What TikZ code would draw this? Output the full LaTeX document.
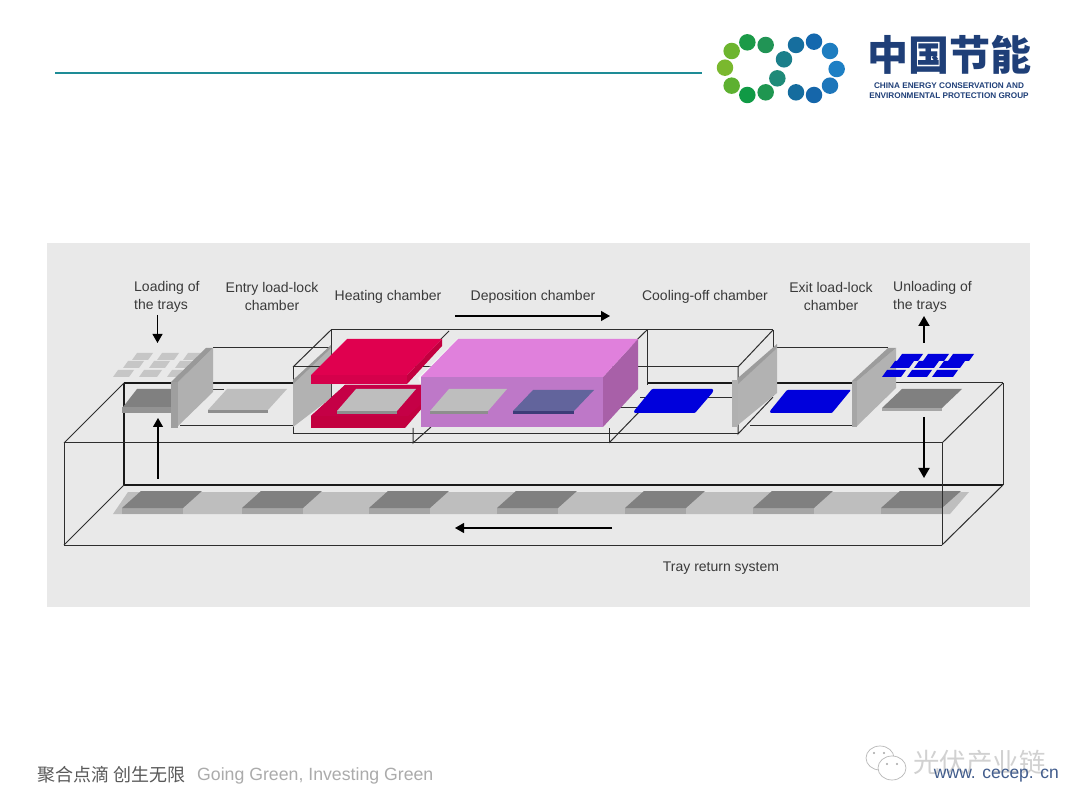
\documentclass[tikz,border=0pt]{standalone}
\usepackage{fontspec}
\setmainfont{Liberation Sans}
\newfontfamily\cjk{Noto Sans CJK SC}
\usetikzlibrary{arrows.meta}
\definecolor{panel}{HTML}{E9E9E9}
\definecolor{frameln}{HTML}{2E2E2E}
\definecolor{labelc}{HTML}{3A3A3A}
\definecolor{navy}{HTML}{1F3F78}
\definecolor{teal1}{HTML}{1E8C96}
\definecolor{bluet}{HTML}{0000DC}
\definecolor{redtop}{HTML}{E0004F}
\definecolor{redside}{HTML}{C2003F}
\definecolor{trayg}{HTML}{808080}
\definecolor{traye}{HTML}{A6A6A6}
\definecolor{traylt}{HTML}{BEBEBE}
\definecolor{traylte}{HTML}{8E8E8E}
\tikzset{
 fr/.style={draw=frameln,line width=1pt},
 frb/.style={draw=black!90,line width=1.5pt},
 lbl/.style={font=\fontsize{14}{18}\selectfont,text=labelc,inner sep=0pt,align=center},
 lbll/.style={lbl,align=left,anchor=west},
 arr/.style={draw=black,line width=1.1pt,-{Triangle[length=9pt,width=10pt]}},
 arrb/.style={draw=black,line width=1.9pt,-{Triangle[length=10pt,width=11pt]}},
 dot/.style={circle,inner sep=0pt,minimum size=#1},
}
% \trayp{x-left}{y}{dx-back-shift}{width}{depth}{top}{edge}
\newcommand{\trayp}[7]{%
 \fill[#7] (#1,#2) -- ++(#4,0) -- ++(0,3) -- ++(-#4,0) -- cycle;
 \fill[#6] (#1,#2) -- ++(#4,0) -- ++(#3,-#5) -- ++(-#4,0) -- cycle;}
\newcommand{\tile}[4]{\fill[#4] (#1,#2) -- ++(#3+2,0) -- ++(5,-7) -- ++(-#3-2,0) -- cycle;}
\begin{document}
\begin{tikzpicture}[x=1pt,y=-1pt]
\useasboundingbox (0,0) rectangle (1080,810);
\fill[white] (0,0) rectangle (1080,810);
\fill[panel] (47,243) rectangle (1030,607);
% header
\draw[teal1,line width=2.4pt] (55,73) -- (702,73);
% logo
\foreach \x/\y/\c in {95/93/6DB52F,75/143/7AB82E,95/197/5DB030,142/225/109A45,197/217/1F9650,142/67/1B9A47,197/75/219455,232/175/1E8A78,252/118/1B7F8A,288/75/166E9E,342/65/1468AE,390/93/1E7DC0,410/147/1D7FC4,390/197/1D76BA,342/225/1566AA,288/217/156C9E}{
 \definecolor{tmpc}{HTML}{\c}
 \node[dot=16.5pt,fill=tmpc] at ({700+\x/3},{20+\y/3}) {};}
\node[inner sep=0pt,text=navy,anchor=center] (logoname) at (949,55) {\fontsize{41}{41}\selectfont\cjk\bfseries 中国节能};
\node[inner sep=0pt,text=navy,anchor=center] (logo1) at (949,86) {\fontsize{8.2}{9}\selectfont\bfseries CHINA ENERGY CONSERVATION AND};
\node[inner sep=0pt,text=navy,anchor=center] (logo2) at (949,95.5) {\fontsize{8.2}{9}\selectfont\bfseries ENVIRONMENTAL PROTECTION GROUP};
% back and lower lines of the tray return box
\draw[frb] (124,383) -- (124,485) -- (1003,485);
\draw[frb] (124,383) -- (171,383);
\draw[frb] (213,383) -- (293,383);
\draw[fr] (1003,383) -- (1003,485);
\draw[frb] (647,383) -- (853,383);
\draw[fr] (853,383) -- (1003,383);
% conveyor
\fill[traylt] (113,514) -- (950,514) -- (969,492) -- (128,492) -- cycle;
\foreach \x in {122,242,369,497,625,753,881}{
 \fill[traye] (\x,508) rectangle ++(61,6);
 \trayp{\x}{508}{19}{61}{17}{trayg}{traye}}
% entry lock frame
\draw[fr] (213,348) -- (331,348);
\draw[fr] (180,426) -- (293,426);
\draw[fr] (213,390) -- (224,390);
% heating/deposition frame
\draw[fr] (331,330) -- (773,330);
\draw[fr] (293,367) -- (331,330);
\draw[fr] (293,367) -- (738,367);
\draw[fr] (293,367) -- (293,434) -- (738,434);
\draw[fr] (331,330) -- (331,400);
\draw[fr] (773,330) -- (773,396);
\draw[fr] (773,330) -- (738,367);
\draw[fr] (738,367) -- (738,434) -- (773,397);
\draw[fr] (449,331) -- (413,367);
\draw[fr] (647,330) -- (647,385) ;
\draw[fr] (647,330) -- (609,367);
\draw[fr] (640,398) -- (738,398);
\draw[fr] (620,408) -- (640,408);
\draw[fr] (609,428) -- (609,443);
\draw[fr] (413,428) -- (413,443) -- (431,427);
\draw[fr] (609,443) -- (640,411);
% exit lock frame
\draw[fr] (777,348) -- (888,348);
\draw[fr] (750,426) -- (853,426);
% front outlines of the return box
\draw[fr] (64,443) -- (942,443);
\draw[fr] (64,443) -- (124,383);
\draw[fr] (64,443) -- (64,545) -- (942,545);
\draw[fr] (64,545) -- (124,485);
\draw[fr] (942,443) -- (1003,383);
\draw[fr] (942,545) -- (1003,485);
% loading tray and tiles
\fill[trayg] (123,407) -- (171,407) -- (171,389) -- (137,389) -- cycle;
\fill[gray!85] (122,407) rectangle (171,413);
\foreach \x/\y/\w in {132/360/14,157/360/15,183/360/13,123/368/14,149/368/14,175/368/13,113/377/14,139/377/16,167/377/9}
 \tile{\x}{\y}{\w}{gray!45}
% door 1
\fill[gray!75] (171,382) rectangle (178,428);
\fill[gray!62] (178,382) -- (213,348) -- (213,392) -- (178,426) -- cycle;
\fill[gray!80] (171,382) -- (178,382) -- (213,348) -- (206,348) -- cycle;
% entry tray
\trayp{208}{410}{19}{60}{21}{traylt}{traylte}
% door 2
\fill[gray!60] (293,380) -- (331,348) -- (331,398) -- (293,427) -- cycle;
\fill[gray!80] (293,380) -- (331,345) -- (331,348) -- (293,384) -- cycle;
\draw[fr] (293,367) -- (331,367);
% heating chamber
\fill[redside] (311,428) -- (311,416) -- (345,385) -- (442,385) -- (405,428) -- cycle;
\fill[redtop!88!black] (311,416) -- (345,385) -- (442,385) -- (408,416) -- cycle;
\trayp{337}{411}{19}{60}{22}{traylt}{traylte}
\fill[redtop!95!black] (311,375) rectangle (407,384);
\fill[redside] (407,375) -- (442,339) -- (442,346) -- (407,384) -- cycle;
\fill[redtop] (347,339) -- (442,339) -- (407,375) -- (311,375) -- cycle;
% deposition chamber
\fill[white,opacity=.55] (418,378) -- (458,338) -- (458,345) -- (421,384) -- cycle;
\definecolor{pinktop}{HTML}{E080DC}
\definecolor{pinkfront}{HTML}{BE78C8}
\definecolor{pinkside}{HTML}{A860A8}
\fill[pinkfront] (421,377) rectangle (603,427);
\fill[pinkside] (603,377) -- (638,339) -- (638,389) -- (603,427) -- cycle;
\fill[pinktop] (421,377) -- (458,339) -- (638,339) -- (603,377) -- cycle;
\trayp{430}{411}{19}{58}{22}{traylt}{traylte}
\definecolor{violet1}{HTML}{62649C}
\definecolor{violet2}{HTML}{3C3C78}
\trayp{513}{411}{20}{61}{21}{violet1}{violet2}
% cooling tray
\fill[bluet,rounded corners=1pt] (634,413) -- (634,411) -- (652,389) -- (713,389) -- (713,392) -- (695,413) -- cycle;
% door 3
\fill[gray!60] (738,378) -- (777,348) -- (777,393) -- (738,425) -- cycle;
\fill[gray!78] (738,378) -- (777,344) -- (777,348) -- (738,384) -- cycle;
\fill[gray!62] (732,380) rectangle (738,427);
% exit lock blue tray
\fill[bluet,rounded corners=1pt] (770,413) -- (770,411) -- (787,390) -- (851,390) -- (832,413) -- cycle;
% door 4
\fill[gray!60] (857,381) -- (896,348) -- (896,388) -- (857,426) -- cycle;
\fill[gray!78] (852,381) -- (857,381) -- (896,348) -- (888,348) -- cycle;
\fill[gray!70] (852,381) rectangle (857,427);
% unloading tray
\trayp{882}{408}{20}{60}{19}{trayg}{traye}
% blue tiles
\foreach \x/\y/\w in {897/361/19,923/361/19,948/361/19,890/368/17,914/368/18,939/368/19,882/377/17,907/377/18,932/377/19}
 \tile{\x}{\y}{\w}{bluet}
% front right edge over the last tray
\draw[fr] (942,443) -- (942,545);
% arrows
\coordinate (a1s) at (157.5,315); \coordinate (a1e) at (157.5,343);
\coordinate (a2s) at (158,479); \coordinate (a2e) at (158,418);
\coordinate (a3s) at (455,316); \coordinate (a3e) at (610,316);
\coordinate (a4s) at (612,528); \coordinate (a4e) at (455,528);
\coordinate (a5s) at (924,343); \coordinate (a5e) at (924,316);
\coordinate (a6s) at (924,417); \coordinate (a6e) at (924,478);
\draw[arr] (a1s) -- (a1e);
\draw[arr] (a2s) -- (a2e);
\draw[arr] (a3s) -- (a3e);
\draw[arr] (a4s) -- (a4e);
\draw[arrb] (a5s) -- (a5e);
\draw[arrb] (a6s) -- (a6e);
% labels
\node[lbll] (l1) at (134,296.5) {Loading of\\the trays};
\node[lbl] (l2) at (272,296) {Entry load-lock\\chamber};
\node[lbl] (l3) at (388,296.5) {Heating chamber};
\node[lbl] (l4) at (533,296.5) {Deposition chamber};
\node[lbl] (l5) at (705,296.5) {Cooling-off chamber};
\node[lbl] (l6) at (831,296) {Exit load-lock\\chamber};
\node[lbll] (l7) at (893,296.5) {Unloading of\\the trays};
\node[lbl] (l8) at (721,568.5) {Tray return system};
% footer
\node[inner sep=0pt,anchor=west,text=black!65] (f1) at (37,774.5) {\fontsize{18}{18}\selectfont\cjk 聚合点滴 创生无限};
\node[inner sep=0pt,anchor=west,text=black!33] (f2) at (197,775.5) {\fontsize{17.7}{18}\selectfont Going Green, Investing Green};
% watermark
\draw[black!28,line width=.7pt,fill=white] (880,758) ellipse (14 and 12);
\draw[black!28,line width=.7pt,fill=white] (892,768) ellipse (14 and 12);
\foreach \x/\y in {874/753,884/753,887/764,897/764}
 \fill[black!35] (\x,\y) circle (1.2);
\node[inner sep=0pt,anchor=west,text=black!18] (wm) at (913,762) {\fontsize{26.5}{28}\selectfont\cjk 光伏产业链};
\node[inner sep=0pt,anchor=east,text=navy!85] (url) at (1059,776) {\fontsize{17.5}{18}\selectfont www. cecep. cn};
\end{tikzpicture}
\end{document}
